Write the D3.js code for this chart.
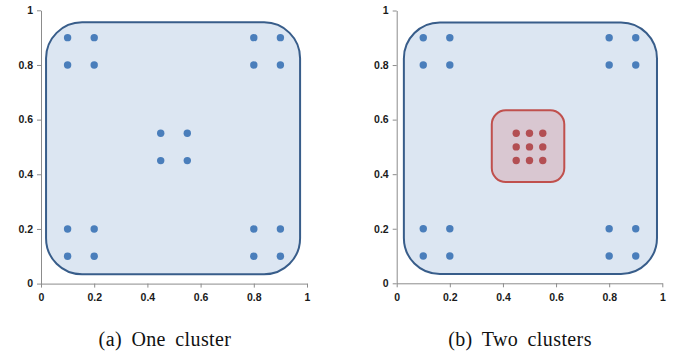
<!DOCTYPE html>
<html>
<head>
<meta charset="utf-8">
<script src="https://cdn.jsdelivr.net/npm/d3@7"></script>
<style>
  body { margin: 0; background: #fff; }
  svg { display: block; }
</style>
</head>
<body>
<div id="chart"></div>
<script>
// tick values for both axes
const ticks = [0, 0.2, 0.4, 0.6, 0.8, 1];
const tickLabels = ['0', '0.2', '0.4', '0.6', '0.8', '1'];

// corner groups (same in both panels)
const cornerX = [0.1, 0.2, 0.8, 0.9];
const cornerY = [0.1, 0.2, 0.8, 0.9];

// centre points
const centerA = [[0.45, 0.55], [0.55, 0.55], [0.45, 0.45], [0.55, 0.45]];
const centerB = [0.45, 0.5, 0.55];

// cluster outlines in data units: [x0, x1, y0, y1]
const outlineA = [0.019, 0.974, 0.034, 0.956];
const outlineB = [0.027, 0.980, 0.034, 0.956];
const outlineRed = [0.358, 0.631, 0.371, 0.634];

const captions = ['(a) One cluster', '(b) Two clusters'];

const W = 680, H = 351;
const svg = d3.select('#chart').append('svg')
  .attr('width', W).attr('height', H);

const panels = [
  { x0: 41, x1: 307, y0: 283.6, y1: 10.3, cap: 165, outline: outlineA },
  { x0: 396.7, x1: 662.3, y0: 283.3, y1: 10.5, cap: 520, outline: outlineB }
];

const blue = '#4a7ebb';
const red = '#b34f53';

panels.forEach((p, i) => {
  const x = d3.scaleLinear().domain([0, 1]).range([p.x0, p.x1]);
  const y = d3.scaleLinear().domain([0, 1]).range([p.y0, p.y1]);
  const g = svg.append('g');

  // axes
  const xAxis = g.append('g')
    .attr('transform', `translate(0,${p.y0})`)
    .call(d3.axisBottom(x).tickValues(ticks).tickFormat((d, k) => tickLabels[k]).tickSize(4).tickSizeOuter(0));
  const yAxis = g.append('g')
    .attr('transform', `translate(${p.x0},0)`)
    .call(d3.axisLeft(y).tickValues(ticks).tickFormat((d, k) => tickLabels[k]).tickSize(4).tickSizeOuter(0));
  [xAxis, yAxis].forEach(a => {
    a.select('.domain').attr('stroke', '#8c8c8c');
    a.selectAll('.tick line').attr('stroke', '#8c8c8c');
    a.selectAll('.tick text')
      .attr('fill', '#1a1a1a')
      .style('font-family', 'Liberation Sans, Arial, sans-serif')
      .style('font-weight', 'bold')
      .style('font-size', '10.5px');
  });
  xAxis.selectAll('.tick text').attr('y', 10);
  yAxis.selectAll('.tick text').attr('x', -8);

  // main cluster outline
  const o = p.outline;
  g.append('rect')
    .attr('x', x(o[0])).attr('y', y(o[3]))
    .attr('width', x(o[1]) - x(o[0]))
    .attr('height', y(o[2]) - y(o[3]))
    .attr('rx', 36).attr('ry', 36)
    .attr('fill', '#dce6f2')
    .attr('stroke', '#385d8a')
    .attr('stroke-width', 2);

  // corner points
  const pts = [];
  cornerX.forEach(cx => cornerY.forEach(cy => pts.push([cx, cy])));
  if (i === 0) centerA.forEach(d => pts.push(d));

  g.selectAll('.dot')
    .data(pts)
    .enter().append('circle')
    .attr('class', 'dot')
    .attr('cx', d => x(d[0]))
    .attr('cy', d => y(d[1]))
    .attr('r', 3.7)
    .attr('fill', blue);

  if (i === 1) {
    const r = outlineRed;
    g.append('rect')
      .attr('x', x(r[0])).attr('y', y(r[3]))
      .attr('width', x(r[1]) - x(r[0]))
      .attr('height', y(r[2]) - y(r[3]))
      .attr('rx', 14).attr('ry', 14)
      .attr('fill', '#d9c7d1')
      .attr('stroke', '#c0504d')
      .attr('stroke-width', 2);

    const redPts = [];
    centerB.forEach(cx => centerB.forEach(cy => redPts.push([cx, cy])));
    g.selectAll('.rdot')
      .data(redPts)
      .enter().append('circle')
      .attr('class', 'rdot')
      .attr('cx', d => x(d[0]))
      .attr('cy', d => y(d[1]))
      .attr('r', 3.7)
      .attr('fill', red);
  }

  // caption
  svg.append('text')
    .attr('x', p.cap).attr('y', 346)
    .attr('text-anchor', 'middle')
    .style('font-family', 'Liberation Serif, Times New Roman, serif')
    .style('font-size', '20px')
    .style('letter-spacing', '0.4px')
    .style('word-spacing', '4px')
    .attr('fill', '#111')
    .text(captions[i]);
});
</script>
</body>
</html>
